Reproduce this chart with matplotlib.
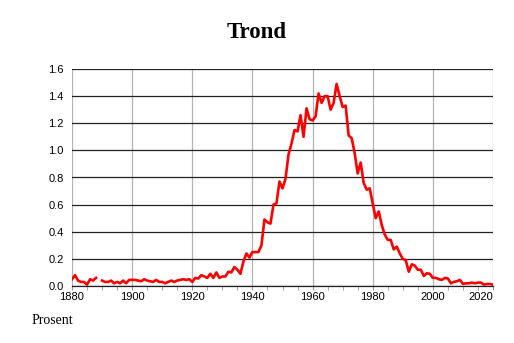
import numpy as np
import matplotlib
matplotlib.use("Agg")
import matplotlib.pyplot as plt
from matplotlib.ticker import MultipleLocator

years = np.arange(1880, 2021)
percent = [
    0.05, 0.08, 0.04, 0.03, 0.03, 0.01, 0.05, 0.04, 0.06, np.nan,   # 1880-1889
    0.04, 0.03, 0.03, 0.04, 0.02, 0.03, 0.02, 0.04, 0.02, 0.045,   # 1890-1899
    0.045, 0.045, 0.04, 0.035, 0.05, 0.04, 0.035, 0.03, 0.045, 0.03,  # 1900-1909
    0.03, 0.02, 0.03, 0.04, 0.03, 0.04, 0.045, 0.05, 0.045, 0.05,  # 1910-1919
    0.03, 0.06, 0.055, 0.08, 0.07, 0.06, 0.09, 0.06, 0.10, 0.06,   # 1920-1929
    0.07, 0.07, 0.105, 0.10, 0.14, 0.12, 0.09, 0.18, 0.24, 0.21,   # 1930-1939
    0.25, 0.25, 0.25, 0.30, 0.49, 0.47, 0.46, 0.60, 0.61, 0.77,    # 1940-1949
    0.72, 0.79, 0.97, 1.05, 1.15, 1.14, 1.26, 1.10, 1.31, 1.23,    # 1950-1959
    1.22, 1.25, 1.42, 1.35, 1.40, 1.40, 1.30, 1.35, 1.49, 1.40,    # 1960-1969
    1.32, 1.33, 1.11, 1.09, 0.98, 0.83, 0.91, 0.76, 0.71, 0.72,    # 1970-1979
    0.61, 0.50, 0.55, 0.45, 0.38, 0.34, 0.34, 0.27, 0.29, 0.24,    # 1980-1989
    0.20, 0.19, 0.105, 0.16, 0.15, 0.12, 0.12, 0.074, 0.094, 0.09, # 1990-1999
    0.06, 0.06, 0.05, 0.045, 0.06, 0.055, 0.02, 0.03, 0.035, 0.045,  # 2000-2009
    0.015, 0.02, 0.02, 0.025, 0.02, 0.025, 0.025, 0.01, 0.015, 0.015,  # 2010-2019
    0.01,                                                           # 2020
]
xticks = list(range(1880, 2021, 20))

fig = plt.figure(figsize=(5.14, 3.43), dpi=100)
ax = fig.add_axes([72/514, 1 - 286/343, (493-72)/514, (286-69)/343])

ax.plot(years, percent, color="red", lw=1.9, zorder=3)

ax.set_xlim(1880, 2020)
ax.set_ylim(0, 1.6)
ax.set_xticks(xticks, [str(x) for x in xticks])
ax.xaxis.set_minor_locator(MultipleLocator(5))
ax.yaxis.set_major_locator(MultipleLocator(0.2))
ax.yaxis.set_major_formatter(matplotlib.ticker.FormatStrFormatter("%.1f"))

# black horizontal lines, grey vertical lines
ax.grid(axis="y", color="#222222", lw=0.9, zorder=1)
ax.grid(axis="x", color="#b4b4b4", lw=0.9, zorder=1)
for s in ["top", "left", "right"]:
    ax.spines[s].set_visible(False)
ax.spines["bottom"].set_color("#222222")
ax.spines["bottom"].set_linewidth(0.9)

ax.tick_params(axis="y", length=0, pad=6, labelsize=8)
ax.tick_params(axis="x", which="major", length=3, pad=1, labelsize=8, color="#999999")
ax.tick_params(axis="x", which="minor", length=3, color="#999999")
for lab in ax.get_xticklabels() + ax.get_yticklabels():
    lab.set_fontfamily("Liberation Sans")
ax.get_xticklabels()[-1].set_horizontalalignment("right")

fig.text(0.5, 1 - 33/343, "Trond", ha="center", va="center",
         fontsize=16.5, fontweight="bold", family="Liberation Serif")
fig.text(32/514, 1 - 320/343, "Prosent", ha="left", va="center",
         fontsize=10, family="Liberation Serif")

fig.savefig("out.png", dpi=100)
